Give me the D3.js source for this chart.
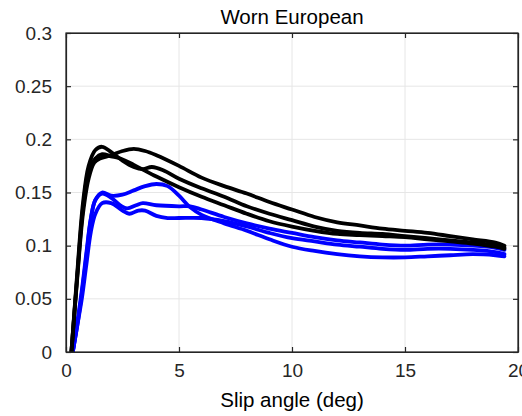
<!DOCTYPE html>
<html><head><meta charset="utf-8">
<script src="https://cdn.jsdelivr.net/npm/d3@7"></script>
<style>body{margin:0;background:#fff}svg{display:block}text{font-family:"Liberation Sans",Arial,sans-serif}</style>
</head><body>
<svg id="c" width="522" height="416"></svg>
<script>
const title = "Worn European";
const xLabel = "Slip angle (deg)";
const xTicks = [0, 5, 10, 15, 20];
const yTicks = [0, 0.05, 0.1, 0.15, 0.2, 0.25, 0.3];
const yTickLabels = ["0", "0.05", "0.1", "0.15", "0.2", "0.25", "0.3"];

const blackA = [[0.24,0],[0.5,0.07],[0.75,0.13],[1.0,0.163],[1.25,0.178],[1.5,0.182],[2.0,0.185],[2.5,0.189],[3.0,0.191],[3.5,0.189],[4.0,0.185],[5.0,0.175],[6.0,0.164],[7.0,0.156],[8.0,0.149],[9.0,0.141],[10.0,0.134],[11.0,0.127],[12.0,0.122],[13.0,0.119],[14.0,0.116],[15.0,0.114],[16.0,0.112],[17.0,0.109],[18.0,0.106],[19.0,0.103],[19.4,0.100]];
const blackB = [[0.24,0],[0.5,0.075],[0.75,0.14],[1.0,0.175],[1.3,0.19],[1.6,0.193],[2.0,0.188],[2.5,0.18],[3.0,0.174],[3.4,0.172],[3.8,0.174],[4.3,0.171],[5.0,0.163],[6.0,0.154],[7.0,0.146],[8.0,0.137],[9.0,0.130],[10.0,0.124],[11.0,0.118],[12.0,0.114],[13.0,0.112],[14.0,0.111],[15.0,0.109],[16.0,0.107],[17.0,0.105],[18.0,0.103],[19.0,0.100],[19.4,0.098]];
const blackC = [[0.24,0],[0.5,0.072],[0.75,0.135],[1.0,0.17],[1.3,0.182],[1.6,0.186],[2.0,0.184],[2.4,0.182],[3.0,0.176],[4.0,0.165],[5.0,0.155],[6.0,0.146],[7.0,0.138],[8.0,0.130],[9.0,0.123],[10.0,0.118],[11.0,0.114],[12.0,0.111],[13.0,0.110],[14.0,0.109],[15.0,0.108],[16.0,0.106],[17.0,0.104],[18.0,0.102],[19.0,0.099],[19.4,0.097]];
const blueD = [[0.3,0],[0.5,0.025],[0.7,0.055],[0.9,0.09],[1.1,0.125],[1.3,0.143],[1.6,0.150],[2.0,0.147],[2.5,0.148],[3.0,0.152],[3.5,0.156],[4.0,0.158],[4.5,0.156],[5.0,0.147],[5.5,0.136],[6.0,0.129],[7.0,0.121],[8.0,0.114],[9.0,0.106],[10.0,0.099],[11.0,0.095],[12.0,0.092],[13.0,0.090],[14.0,0.089],[15.0,0.089],[16.0,0.090],[17.0,0.091],[18.0,0.092],[19.0,0.091],[19.4,0.090]];
const blueE = [[0.3,0],[0.5,0.028],[0.7,0.058],[0.9,0.093],[1.1,0.126],[1.3,0.143],[1.6,0.149],[2.0,0.145],[2.4,0.138],[2.7,0.135],[3.1,0.138],[3.4,0.140],[4.0,0.138],[5.0,0.137],[5.5,0.137],[6.0,0.134],[7.0,0.127],[8.0,0.121],[9.0,0.116],[10.0,0.112],[11.0,0.108],[12.0,0.105],[13.0,0.103],[14.0,0.101],[15.0,0.100],[16.0,0.101],[17.0,0.101],[18.0,0.100],[19.0,0.098],[19.4,0.096]];
const blueF = [[0.3,0],[0.5,0.025],[0.7,0.05],[0.9,0.082],[1.1,0.113],[1.3,0.130],[1.6,0.140],[2.0,0.140],[2.5,0.133],[2.8,0.130],[3.2,0.133],[3.5,0.133],[4.0,0.128],[4.5,0.126],[5.0,0.126],[6.0,0.126],[7.0,0.123],[8.0,0.118],[9.0,0.112],[10.0,0.107],[11.0,0.104],[12.0,0.101],[13.0,0.099],[14.0,0.097],[15.0,0.096],[16.0,0.097],[17.0,0.097],[18.0,0.096],[19.0,0.094],[19.4,0.092]];

const blackSeries = [blackA, blackB, blackC];
const blueSeries = [blueD, blueE, blueF];

const svg = d3.select("#c");
const m = {l: 66, r: 4, t: 33, b: 64};
const W = 522, H = 416;
const x = d3.scaleLinear().domain([0, 20]).range([m.l, W - m.r]);
const y = d3.scaleLinear().domain([0, 0.3]).range([H - m.b, m.t]);

const grid = svg.append("g").attr("stroke", "#e6e6e6").attr("stroke-width", 1);
xTicks.forEach(t => grid.append("line").attr("x1", x(t)).attr("x2", x(t)).attr("y1", y(0)).attr("y2", y(0.3)));
yTicks.forEach(t => grid.append("line").attr("x1", x(0)).attr("x2", x(20)).attr("y1", y(t)).attr("y2", y(t)));

svg.append("clipPath").attr("id", "clip").append("rect")
  .attr("x", x(0)).attr("y", y(0.3)).attr("width", x(20) - x(0)).attr("height", y(0) - y(0.3));

const line = d3.line().x(d => x(d[0])).y(d => y(d[1])).curve(d3.curveCatmullRom.alpha(0.5));
const lg = svg.append("g").attr("clip-path", "url(#clip)").attr("fill", "none").attr("stroke-width", 3.8).attr("stroke-linejoin", "round").attr("stroke-linecap", "round");
blueSeries.forEach(s => lg.append("path").attr("d", line(s)).attr("stroke", "#0000ff"));
blackSeries.forEach(s => lg.append("path").attr("d", line(s)).attr("stroke", "#000000"));

const ax = "#262626";
const fs = 19;
const xb = svg.append("g").attr("transform", `translate(0,${y(0)})`)
  .call(d3.axisBottom(x).tickValues(xTicks).tickFormat(d3.format("d")).tickSizeInner(-5).tickSizeOuter(0).tickPadding(12));
const yl = svg.append("g").attr("transform", `translate(${x(0)},0)`)
  .call(d3.axisLeft(y).tickValues(yTicks).tickFormat((d, i) => yTickLabels[i]).tickSizeInner(-5).tickSizeOuter(0).tickPadding(14));
const xt = svg.append("g").attr("transform", `translate(0,${y(0.3)})`)
  .call(d3.axisTop(x).tickValues(xTicks).tickFormat("").tickSizeInner(-5).tickSizeOuter(0));
const yr = svg.append("g").attr("transform", `translate(${x(20)},0)`)
  .call(d3.axisRight(y).tickValues(yTicks).tickFormat("").tickSizeInner(-5).tickSizeOuter(0));
[xb, yl, xt, yr].forEach(g => {
  g.select(".domain").attr("stroke", ax).attr("stroke-width", 1.2);
  g.selectAll(".tick line").attr("stroke", ax).attr("stroke-width", 1.2);
  g.selectAll("text").attr("fill", ax).style("font-size", fs + "px").style("font-family", '"Liberation Sans", Arial, sans-serif');
});
svg.append("rect").attr("x", x(0)).attr("y", y(0.3)).attr("width", x(20) - x(0)).attr("height", y(0) - y(0.3))
  .attr("fill", "none").attr("stroke", ax).attr("stroke-width", 1.2);

svg.append("text").attr("x", (x(0) + x(20)) / 2).attr("y", 24).attr("text-anchor", "middle")
  .attr("fill", "#000").style("font-size", "20.5px").text(title);
svg.append("text").attr("x", (x(0) + x(20)) / 2).attr("y", 407).attr("text-anchor", "middle")
  .attr("fill", "#000").style("font-size", "20.5px").text(xLabel);
</script>
</body></html>
